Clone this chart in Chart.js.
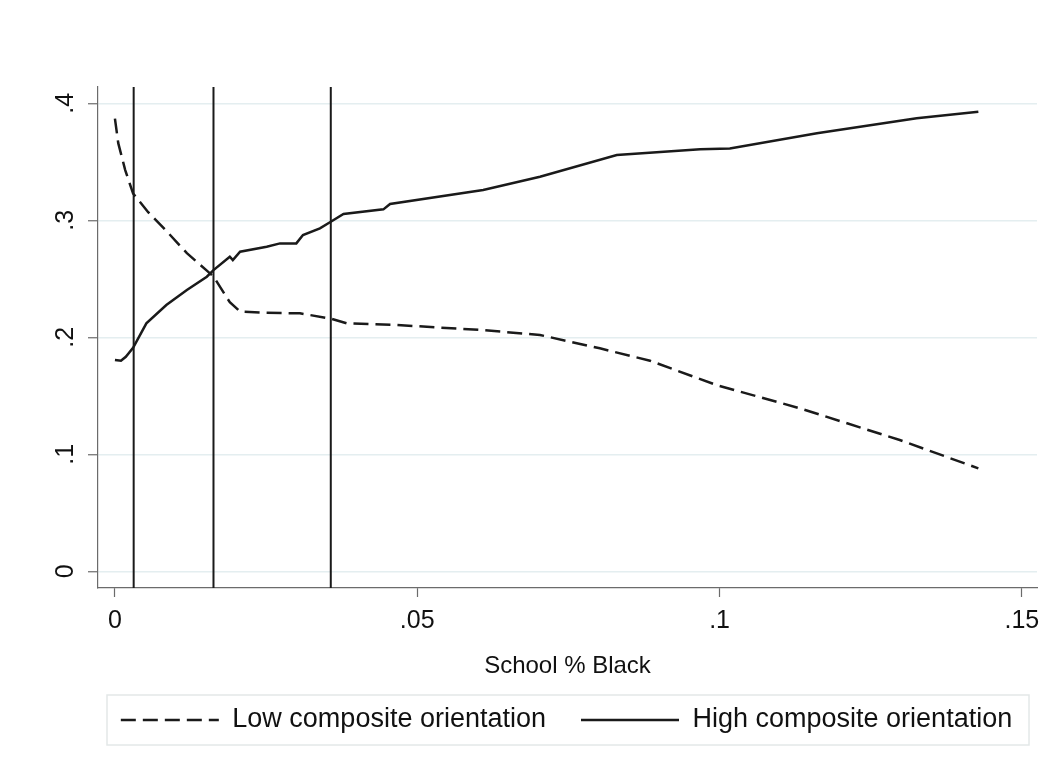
<!DOCTYPE html>
<html>
<head>
<meta charset="utf-8">
<script src="https://cdn.jsdelivr.net/npm/chart.js@4/dist/chart.umd.min.js"></script>
<style>
  html, body { margin: 0; padding: 0; background: #fff; }
  #wrap { width: 1050px; height: 772px; }
</style>
</head>
<body>
<div id="wrap"><canvas id="chart"></canvas></div>
<script>
// values
const lowX = [0, 0.00055, 0.0017, 0.003, 0.0055, 0.0085, 0.0119, 0.0152, 0.0163, 0.019, 0.0207, 0.025, 0.0306, 0.0357, 0.0383, 0.0466, 0.0609, 0.0703, 0.0802, 0.0885, 0.0995, 0.1133, 0.1298, 0.1428]
const lowY = [0.387, 0.366, 0.343, 0.323, 0.307, 0.291, 0.272, 0.257, 0.252, 0.230, 0.222, 0.221, 0.2205, 0.216, 0.212, 0.2105, 0.2062, 0.202, 0.1906, 0.180, 0.1592, 0.1393, 0.1122, 0.088]

const highX = [0, 0.001, 0.0018, 0.003, 0.0052, 0.0085, 0.0119, 0.0152, 0.0163, 0.019, 0.0195, 0.0207, 0.0251, 0.0273, 0.03, 0.0311, 0.0339, 0.0357, 0.0378, 0.0444, 0.0455, 0.0609, 0.0703, 0.083, 0.0968, 0.1017, 0.1161, 0.1326, 0.1428]
const highY = [0.1806, 0.18, 0.1834, 0.191, 0.212, 0.2276, 0.2404, 0.2518, 0.2575, 0.2689, 0.266, 0.2732, 0.2774, 0.2803, 0.2803, 0.2874, 0.2932, 0.2988, 0.3054, 0.3094, 0.314, 0.326, 0.3373, 0.3558, 0.3607, 0.3615, 0.3744, 0.3872, 0.3928]

const cutoffs = [0.0031, 0.0163, 0.0357]

const seriesLabels = ["Low composite orientation", "High composite orientation"]
const xTicks = [0, 0.05, 0.1, 0.15]
const xTickLabels = ["0", ".05", ".1", ".15"]
const yTicks = [0, 0.1, 0.2, 0.3, 0.4]
const yTickLabels = ["0", ".1", ".2", ".3", ".4"]
const xTitle = "School % Black"

const xMin = -0.0028, xMax = 0.1525
const yMin = -0.0143, yMax = 0.414

const ink = "#1a1a1a"
const axisGray = "#6b6b6b"
const font = "'Liberation Sans', Arial, sans-serif"

const toPoints = (xs, ys) => xs.map((x, i) => ({x: x, y: ys[i]}))

const datasets = [
   {
      label: seriesLabels[0],
      data: toPoints(lowX, lowY),
      borderColor: ink,
      borderWidth: 2.5,
      borderDash: [15, 7],
      pointRadius: 0,
      tension: 0
   },
   {
      label: seriesLabels[1],
      data: toPoints(highX, highY),
      borderColor: ink,
      borderWidth: 2.5,
      pointRadius: 0,
      tension: 0
   }
]

cutoffs.forEach(c => {
   datasets.push({
      label: "",
      data: [{x: c, y: yMin}, {x: c, y: yMax}],
      borderColor: ink,
      borderWidth: 2,
      pointRadius: 0
   })
})

// light box round the legend, like Stata's
const legendBox = {
   id: "legendBox",
   afterDraw(chart) {
      const hb = chart.legend.legendHitBoxes
      if (!hb || !hb.length) return
      const cy = hb[0].top + hb[0].height / 2
      const a = chart.chartArea
      const ctx = chart.ctx
      ctx.save()
      ctx.strokeStyle = "#e3e8e8"
      ctx.lineWidth = 1.5
      ctx.strokeRect(a.left + 9, cy - 25, a.right - a.left - 17, 50)
      ctx.restore()
   }
}

new Chart(document.getElementById("chart"), {
   type: "line",
   data: {datasets: datasets},
   plugins: [legendBox],
   options: {
      responsive: true,
      maintainAspectRatio: false,
      animation: false,
      layout: {padding: {left: 83, right: 0, top: 87, bottom: 28.5}},
      plugins: {
         tooltip: {enabled: false},
         legend: {
            position: "bottom",
            labels: {
               filter: item => item.text !== "",
               generateLabels: chart => Chart.defaults.plugins.legend.labels.generateLabels(chart).map(item => {
                  const ds = chart.data.datasets[item.datasetIndex]
                  item.lineDash = ds.borderDash || []
                  item.lineWidth = ds.borderWidth
                  item.strokeStyle = ds.borderColor
                  return item
               }),
               usePointStyle: true,
               pointStyle: "line",
               pointStyleWidth: 98,
               padding: 35,
               color: "#111",
               font: {size: 27, family: font}
            }
         }
      },
      scales: {
         x: {
            type: "linear",
            min: xMin,
            max: xMax,
            afterBuildTicks: axis => { axis.ticks = xTicks.map(v => ({value: v})) },
            afterFit: axis => { axis.height = 83.5 },
            ticks: {
               callback: (v, i) => xTickLabels[i],
               color: "#111",
               padding: 9,
               maxRotation: 0,
               font: {size: 25, family: font}
            },
            grid: {drawOnChartArea: false, drawTicks: true, tickLength: 9, tickColor: axisGray, tickWidth: 1.2},
            border: {display: true, color: axisGray, width: 1.2},
            title: {
               display: true,
               text: xTitle,
               color: "#111",
               padding: {top: 0, bottom: -9},
               font: {size: 24, family: font}
            }
         },
         y: {
            min: yMin,
            max: yMax,
            afterBuildTicks: axis => { axis.ticks = yTicks.map(v => ({value: v})) },
            afterFit: axis => { axis.width = 15 },
            ticks: {
               callback: (v, i) => yTickLabels[i],
               color: "#111",
               minRotation: 90,
               maxRotation: 90,
               mirror: true,
               crossAlign: "center",
               padding: -42.4,
               font: {size: 25, family: font}
            },
            grid: {color: "#e4eef0", lineWidth: 1.5, tickLength: 10, tickColor: axisGray, tickWidth: 1.2},
            border: {display: true, color: axisGray, width: 1.2}
         },
         yRight: {
            position: "right",
            display: true,
            ticks: {display: false},
            grid: {display: false},
            border: {display: false},
            afterFit: axis => { axis.width = 13 }
         }
      }
   }
})
</script>
</body>
</html>
